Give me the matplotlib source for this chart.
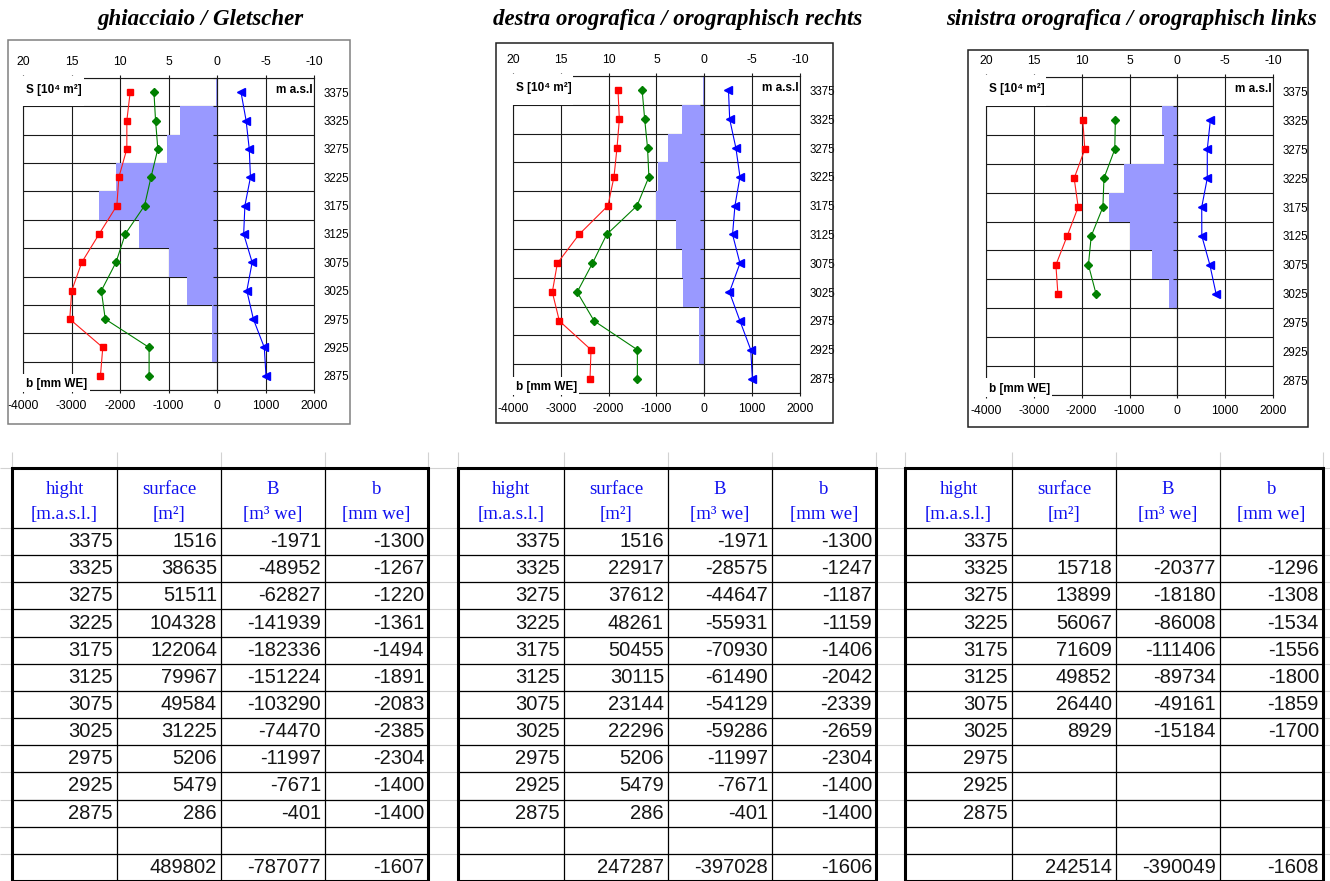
import numpy as np
import matplotlib
matplotlib.use("Agg")
from matplotlib import pyplot as plt
from matplotlib import ticker
from matplotlib.patches import Rectangle

plt.rcParams['font.family'] = ['Liberation Sans', 'DejaVu Sans']
plt.rcParams['axes.unicode_minus'] = False

W, H = 1330, 881

# fasce altimetriche (centro fascia, m s.l.m.)
hight = [3375, 3325, 3275, 3225, 3175, 3125, 3075, 3025, 2975, 2925, 2875]

# ghiacciaio / Gletscher
surf_g = [1516, 38635, 51511, 104328, 122064, 79967, 49584, 31225, 5206, 5479, 286]
B_g = [-1971, -48952, -62827, -141939, -182336, -151224, -103290, -74470, -11997, -7671, -401]
b_g = [-1300, -1267, -1220, -1361, -1494, -1891, -2083, -2385, -2304, -1400, -1400]
tot_g = [489802, -787077, -1607]
b2_g = [-1790, -1859, -1859, -2024, -2065, -2430, -2788, -2995, -3036, -2355, -2403]
db_g = [495, 600, 665, 690, 575, 550, 725, 615, 750, 975, 1010]

# destra orografica / orographisch rechts
surf_d = [1516, 22917, 37612, 48261, 50455, 30115, 23144, 22296, 5206, 5479, 286]
B_d = [-1971, -28575, -44647, -55931, -70930, -61490, -54129, -59286, -11997, -7671, -401]
b_d = [-1300, -1247, -1187, -1159, -1406, -2042, -2339, -2659, -2304, -1400, -1400]
tot_d = [247287, -397028, -1606]
b2_d = [-1805, -1777, -1826, -1889, -2014, -2620, -3073, -3178, -3031, -2369, -2390]
db_d = [505, 530, 660, 745, 640, 590, 745, 525, 745, 970, 1005]

# sinistra orografica / orographisch links
surf_s = [None, 15718, 13899, 56067, 71609, 49852, 26440, 8929, None, None, None]
B_s = [None, -20377, -18180, -86008, -111406, -89734, -49161, -15184, None, None, None]
b_s = [None, -1296, -1308, -1534, -1556, -1800, -1859, -1700, None, None, None]
tot_s = [242514, -390049, -1608]
b2_s = [None, -1976, -1934, -2157, -2073, -2303, -2539, -2497, None, None, None]
db_s = [None, 690, 626, 626, 510, 512, 680, 810, None, None, None]

titles = ['ghiacciaio / Gletscher',
          'destra orografica / orographisch rechts',
          'sinistra orografica / orographisch links']

headers = [('hight', '[m.a.s.l.]'), ('surface', '[m²]'), ('B', '[m³ we]'), ('b', '[mm we]')]

LINE = '#1a1a1a'


def frac(x0, y0, x1, y1):
    return [x0 / W, 1 - y1 / H, (x1 - x0) / W, (y1 - y0) / H]


def arr(v):
    return np.array([np.nan if x is None else x for x in v], dtype=float)


fig = plt.figure(figsize=(W / 100, H / 100), dpi=100)

# ---------- tabelle ----------
tab = fig.add_axes([0, 0, 1, 1])
tab.set_xlim(0, W)
tab.set_ylim(H, 0)
tab.axis('off')

t_top, h_bot, row_h = 468, 528, 27.15
ys = [h_bot + k * row_h for k in range(14)]

# griglia leggera del foglio
tab.hlines([t_top] + ys, 0, W, color='#d2d2d2', lw=0.8, zorder=1)

tables = [
    dict(cols=[12, 117, 221, 325, 428], surf=surf_g, B=B_g, b=b_g, tot=tot_g),
    dict(cols=[458, 564, 668, 772, 876], surf=surf_d, B=B_d, b=b_d, tot=tot_d),
    dict(cols=[905, 1012, 1116, 1220, 1323], surf=surf_s, B=B_s, b=b_s, tot=tot_s),
]

num_kw = dict(ha='right', va='center', fontsize=14.5, color='#151515',
              family=['Liberation Sans', 'DejaVu Sans'])
head_kw = dict(ha='center', va='center', fontsize=13.5, color='#1010f0',
               family=['Liberation Serif', 'DejaVu Serif'])

for t in tables:
    c = t['cols']
    tab.vlines(c, 452, t_top, color='#d2d2d2', lw=0.8, zorder=1)
    tab.hlines(ys[:-1], c[0], c[-1], color='black', lw=0.9, zorder=2)
    tab.vlines(c[1:-1], t_top, ys[-1], color='black', lw=0.9, zorder=2)
    tab.add_patch(Rectangle((c[0], t_top), c[-1] - c[0], ys[-1] - t_top,
                            fill=False, ec='black', lw=2.2, zorder=3))
    for j, (l1, l2) in enumerate(headers):
        xc = (c[j] + c[j + 1]) / 2
        tab.text(xc, 489, l1, **head_kw)
        tab.text(xc, 515, l2, **head_kw)
    for i, h in enumerate(hight):
        yc = (ys[i] + ys[i + 1]) / 2
        tab.text(c[1] - 4, yc, str(h), **num_kw)
        for j, v in enumerate([t['surf'][i], t['B'][i], t['b'][i]]):
            if v is not None:
                tab.text(c[j + 2] - 4, yc, str(v), **num_kw)
    yc = (ys[12] + ys[13]) / 2
    for j, v in enumerate(t['tot']):
        tab.text(c[j + 2] - 4, yc, str(v), **num_kw)

# ---------- grafici ----------
charts = [
    dict(box=(8, 40, 350, 424), area=(23, 78, 314, 390), tx=200, frame='#808080',
         surf=surf_g, b=b_g, b2=b2_g, db=db_g),
    dict(box=(496, 43, 833, 423), area=(513, 76, 800, 393), tx=678, frame='#202020',
         surf=surf_d, b=b_d, b2=b2_d, db=db_d),
    dict(box=(968, 50, 1308, 427), area=(986, 77, 1273, 395), tx=1132, frame='#202020',
         surf=surf_s, b=b_s, b2=b2_s, db=db_s),
]

for ch, title in zip(charts, titles):
    x0, y0, x1, y1 = ch['box']
    fig.add_artist(Rectangle((x0 / W, 1 - y1 / H), (x1 - x0) / W, (y1 - y0) / H,
                             transform=fig.transFigure, fill=False,
                             ec=ch['frame'], lw=1.1))
    fig.text(ch['tx'] / W, 1 - 20 / H, title, ha='center', va='center',
             fontsize=16.5, family=['Liberation Serif', 'DejaVu Serif'],
             weight='bold', style='italic')

    # asse delle superfici (in alto, invertito)
    ax = fig.add_axes(frac(*ch['area']))
    s = arr(ch['surf'])
    ok = ~np.isnan(s)
    ax.barh(np.array(hight)[ok], s[ok], height=50, left=0,
            color='#9999ff', edgecolor='none', zorder=2)
    ax.set_xlim(200000, -100000)
    ax.set_ylim(2850, 3400)
    ax.set_xticks(np.arange(200000, -100001, -50000))
    ax.xaxis.set_major_formatter(ticker.FuncFormatter(lambda v, p: '%g' % (v / 1e4)))
    ax.yaxis.set_major_locator(ticker.FixedLocator(hight))
    ax.yaxis.set_minor_locator(ticker.MultipleLocator(50))
    ax.set_axisbelow(True)
    ax.grid(which='minor', axis='y', color=LINE, lw=0.8)
    ax.grid(which='major', axis='x', color=LINE, lw=0.8)
    for sp in ax.spines.values():
        sp.set_color(LINE)
        sp.set_linewidth(0.8)

    # asse del bilancio specifico (in basso)
    axl = ax.twiny()
    axl.set_xlim(-4000, 2000)
    axl.set_xticks(np.arange(-4000, 2001, 1000))
    ax.xaxis.tick_top()
    axl.xaxis.tick_bottom()
    ax.tick_params(axis='x', direction='out', length=2.5, width=0.8, pad=4.5,
                   labelsize=8.7, color=LINE)
    axl.tick_params(axis='x', direction='out', length=2.5, width=0.8, pad=4.5,
                    labelsize=8.7, color=LINE)
    ax.tick_params(axis='y', which='both', left=False, right=True, labelleft=False,
                   labelright=True, length=0, pad=7, labelsize=8.3)

    # linea dello zero con le tacche delle fasce
    axl.yaxis.set_visible(True)
    for k in ['top', 'right', 'bottom']:
        axl.spines[k].set_visible(False)
    axl.spines['left'].set_position(('data', 0))
    axl.spines['left'].set_color(LINE)
    axl.spines['left'].set_linewidth(0.8)
    axl.tick_params(axis='y', which='major', left=False, right=False,
                    labelleft=False, labelright=False)
    axl.tick_params(axis='y', which='minor', left=True, right=False, length=3,
                    width=0.8, direction='out', color=LINE,
                    labelleft=False, labelright=False)

    axl.plot(arr(ch['b2']), hight, color='#ff1a1a', lw=0.8, marker='s', ms=4.6,
             mfc='red', mec='red', zorder=4)
    axl.plot(arr(ch['b']), hight, color='#008000', lw=0.8, marker='D', ms=3.7,
             mfc='#008000', mec='#008000', zorder=4)
    axl.plot(arr(ch['db']), hight, color='#0000ff', lw=0.8, marker='<', ms=5.6,
             mfc='#0000ff', mec='#0000ff', zorder=4)

    # riquadri delle etichette
    axl.add_patch(Rectangle((-0.01, 0.909), 0.218, 0.097, transform=axl.transAxes,
                            fc='white', ec='none', clip_on=False, zorder=6))
    axl.add_patch(Rectangle((-0.01, -0.006), 0.24, 0.058, transform=axl.transAxes,
                            fc='white', ec='none', clip_on=False, zorder=6))
    axl.text(0.01, 0.962, 'S [10⁴ m²]', transform=axl.transAxes, ha='left',
             va='center', fontsize=8.5, weight='bold', zorder=7)
    axl.text(0.995, 0.962, 'm a.s.l', transform=axl.transAxes, ha='right',
             va='center', fontsize=8.5, weight='bold', zorder=7)
    axl.text(0.012, 0.02, 'b [mm WE]', transform=axl.transAxes, ha='left',
             va='center', fontsize=8.5, weight='bold', zorder=7)

fig.savefig('out.png', dpi=100)
